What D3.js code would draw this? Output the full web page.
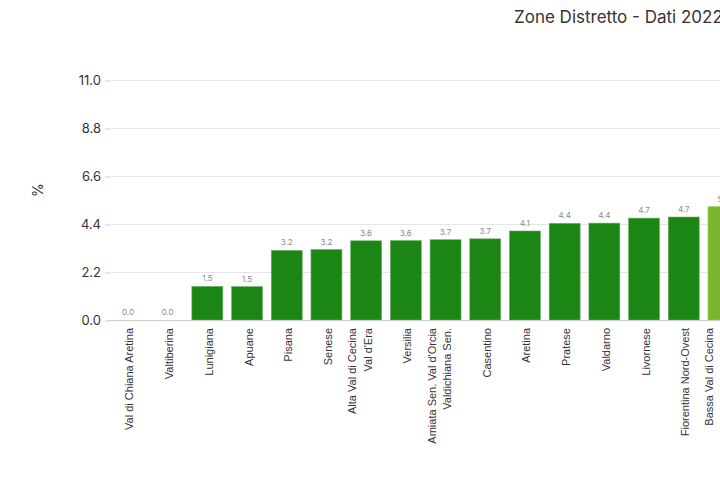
<!DOCTYPE html>
<html><head><meta charset="utf-8">
<script src="https://cdn.jsdelivr.net/npm/d3@7"></script>
<style>
html,body{margin:0;padding:0;background:#fff;overflow:hidden;width:720px;height:478px;}
svg{display:block;}
</style></head>
<body>
<svg id="chart" width="720" height="478"></svg>
<script>
const categories = [
  ["Val di Chiana Aretina"],
  ["Valtiberina"],
  ["Lunigiana"],
  ["Apuane"],
  ["Pisana"],
  ["Senese"],
  ["Alta Val di Cecina", "Val d'Era"],
  ["Versilia"],
  ["Amiata Sen. Val d'Orcia", "Valdichiana Sen."],
  ["Casentino"],
  ["Aretina"],
  ["Pratese"],
  ["Valdarno"],
  ["Livornese"],
  ["Fiorentina Nord-Ovest"],
  ["Bassa Val di Cecina", "Val di Cornia"]
];
const values = [0.0, 0.0, 1.54, 1.53, 3.19, 3.23, 3.63, 3.64, 3.68, 3.72, 4.08, 4.43, 4.44, 4.67, 4.72, 5.2];
const highlight = [false,false,false,false,false,false,false,false,false,false,false,false,false,false,false,true];
const yTicks = [0, 2.2, 4.4, 6.6, 8.8, 11.0];
const titleText = "Zone Distretto - Dati 2022";
const yTitle = "%";

const svg = d3.select("#chart");
const keys = categories.map(c => c.join(" "));
const x = d3.scaleBand().domain(keys).range([108.1, 108.1 + 16 * 39.7]).paddingInner(0.22).paddingOuter(0.11);
const y = d3.scaleLinear().domain([0, 11]).range([320, 80]);

// gridlines
svg.append("g").selectAll("line").data(yTicks.slice(1)).join("line")
  .attr("x1", 110).attr("x2", 760)
  .attr("y1", d => Math.round(y(d)) + 0.5).attr("y2", d => Math.round(y(d)) + 0.5)
  .attr("stroke", "#e6e6e6").attr("stroke-width", 1);

// y axis
const yAxis = d3.axisLeft(y).tickValues(yTicks).tickFormat(d3.format(".1f")).tickSize(5).tickPadding(4);
const gy = svg.append("g").attr("transform", "translate(110,0.5)").call(yAxis);
gy.select(".domain").remove();
gy.selectAll(".tick line").attr("stroke", "#ccc");
gy.selectAll(".tick text").attr("fill", "#333").style("font-family", "Inter, sans-serif").style("font-size", "13px");

// bars
svg.append("g").selectAll("rect").data(values).join("rect")
  .attr("x", (d, i) => x(keys[i]))
  .attr("width", x.bandwidth())
  .attr("y", d => y(d))
  .attr("height", d => y(0) - y(d))
  .attr("fill", (d, i) => highlight[i] ? "#7ab62d" : "#1c8614")
  .attr("stroke", (d, i) => highlight[i] ? "#a6d072" : "#6cb066")
  .attr("stroke-width", 0.6);

// baseline
svg.append("line").attr("x1", 110).attr("x2", 760).attr("y1", 320.5).attr("y2", 320.5).attr("stroke", "#ccc");

// value labels
svg.append("g").selectAll("text").data(values).join("text")
  .attr("x", (d, i) => x(keys[i]) + x.bandwidth() / 2)
  .attr("y", d => y(d) - 5)
  .attr("text-anchor", "middle")
  .attr("fill", "#8a8a8a")
  .style("font-family", "Inter, sans-serif").style("font-size", "8px")
  .text(d => d3.format(".1f")(d));

// x labels
const xl = svg.append("g").selectAll("g").data(categories).join("g")
  .attr("transform", (d, i) => `translate(${x(keys[i]) + x.bandwidth() / 2},328)`);
xl.each(function(lines) {
  const g = d3.select(this);
  const n = lines.length;
  lines.forEach((t, j) => {
    g.append("text")
      .attr("transform", `translate(${(j - (n - 1)) * 15.5 + 5.5},0) rotate(-90)`)
      .attr("text-anchor", "end")
      .attr("fill", "#333")
      .style("font-family", "'Liberation Sans', Arial, sans-serif").style("font-size", "11px")
      .text(t);
  });
});

// y title
svg.append("text").attr("transform", "translate(43,190) rotate(-90)")
  .attr("text-anchor", "middle").attr("fill", "#333")
  .style("font-family", "Inter, sans-serif").style("font-size", "14px").text(yTitle);

// title
svg.append("text").attr("x", 514).attr("y", 23).attr("fill", "#333")
  .style("font-family", "Inter, sans-serif").style("font-size", "17px").text(titleText);
</script>
</body></html>
